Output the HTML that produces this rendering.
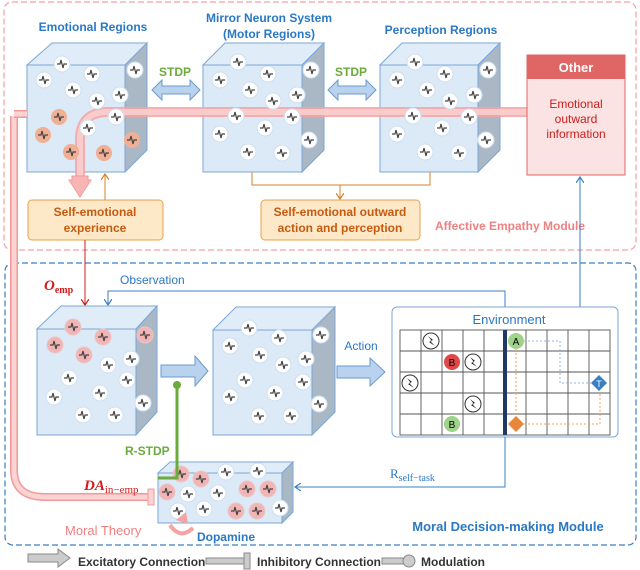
<!DOCTYPE html>
<html><head><meta charset="utf-8"><style>body{margin:0;background:#fff}svg{display:block;font-family:"Liberation Sans",sans-serif}</style></head><body>
<svg width="640" height="570" viewBox="0 0 640 570" xmlns="http://www.w3.org/2000/svg">
<defs>
<g id="n"><circle r="8" fill="#fff" stroke="#cfe0f0" stroke-width="1"/><path d="M-5,0 L-2,0 L-1,-4 L1,4 L2,0 L5,0" fill="none" stroke="#444" stroke-width="1.2"/></g>
<g id="r"><circle r="8" fill="#f2b4b4" stroke="#e8c8c8"/><path d="M-5,0 L-2,0 L-1,-4 L1,4 L2,0 L5,0" fill="none" stroke="#444" stroke-width="1.2"/></g>
<g id="o"><circle r="8" fill="#f3c08a"/><circle r="8" fill="#f0a0a0" opacity="0.5"/><path d="M-5,0 L-2,0 L-1,-4 L1,4 L2,0 L5,0" fill="none" stroke="#444" stroke-width="1.2"/></g>
<g id="z"><circle r="8" fill="#fff" stroke="#333"/><path d="M-3,-5 L2,-1 L-1,0 L4,5 L-2,1 L1,0 Z" fill="#111"/></g>
<marker id="ao" markerWidth="8" markerHeight="8" refX="6" refY="4" orient="auto"><path d="M0,0 L6,4 L0,8" fill="none" stroke="#d9822b" stroke-width="1.2"/></marker>
<marker id="ab" markerWidth="8" markerHeight="8" refX="6" refY="4" orient="auto"><path d="M0,0 L6,4 L0,8" fill="none" stroke="#3a7fc4" stroke-width="1.2"/></marker>
<marker id="ar" markerWidth="8" markerHeight="8" refX="6" refY="4" orient="auto"><path d="M0,0 L6,4 L0,8" fill="none" stroke="#d01c1c" stroke-width="1.2"/></marker>
</defs>

<rect x="4" y="2" width="632" height="248" rx="8" fill="none" stroke="#f4a0a0" stroke-dasharray="6,3" stroke-width="1.2"/>
<rect x="5" y="263" width="631" height="282" rx="8" fill="none" stroke="#3a7fc4" stroke-dasharray="6,3" stroke-width="1.2"/>

<g font-weight="bold" font-size="12" fill="#2a78c4" text-anchor="middle">
<text x="93" y="31">Emotional Regions</text>
<text x="269" y="22">Mirror Neuron System</text>
<text x="269" y="38">(Motor Regions)</text>
<text x="441" y="34">Perception Regions</text>
</g>

<g stroke="#7ba7d6" stroke-width="1">
<path d="M27,65 L52,43 L147,43 L125,65Z" fill="#e0edf8"/><rect x="27" y="65" width="98" height="107" fill="#dce9f6"/><path d="M125,65 L147,43 L147,150 L125,172Z" fill="#aab8c6"/>
<path d="M203,65 L225,43 L324,43 L302,65Z" fill="#e0edf8"/><rect x="203" y="65" width="99" height="107" fill="#dce9f6"/><path d="M302,65 L324,43 L324,150 L302,172Z" fill="#aab8c6"/>
<path d="M380,65 L402,43 L500,43 L478,65Z" fill="#e0edf8"/><rect x="380" y="65" width="98" height="107" fill="#dce9f6"/><path d="M478,65 L500,43 L500,150 L478,172Z" fill="#aab8c6"/>
</g>

<path d="M14,116 L14,470 Q14,497 45,497 L150,497" fill="none" stroke="#f29a9a" stroke-width="8"/>
<path d="M14,116 L14,470 Q14,497 45,497 L150,497" fill="none" stroke="#fbd3d3" stroke-width="5"/>
<path d="M14,114 L27,114" stroke="#f29a9a" stroke-width="8"/><path d="M14,114 L27,114" stroke="#fbd3d3" stroke-width="5"/>
<rect x="148" y="489" width="6" height="16" fill="#fbd3d3" stroke="#f29a9a"/>
<path d="M80,180 L80,140 Q80,112 108,112 L527,112" fill="none" stroke="#f5a3a3" stroke-width="10" opacity="0.85"/>
<path d="M80,180 L80,140 Q80,112 108,112 L527,112" fill="none" stroke="#fbd0d0" stroke-width="6" opacity="0.85"/>
<path d="M72,176 L88,176 L88,180 L91,180 L80,197 L69,180 L72,180Z" fill="#f8b5b5" stroke="#f29a9a"/>

<use href="#n" x="62" y="64"/><use href="#n" x="44" y="80"/><use href="#n" x="92" y="74"/><use href="#n" x="73" y="90"/><use href="#n" x="97" y="101"/><use href="#n" x="135" y="70"/><use href="#n" x="120" y="95"/><use href="#n" x="116" y="117"/><use href="#n" x="88" y="128"/>
<use href="#o" x="59" y="117"/><use href="#o" x="43" y="135"/><use href="#o" x="71" y="152"/><use href="#o" x="104" y="153"/><use href="#o" x="132" y="140"/>
<use href="#n" x="238" y="62"/><use href="#n" x="220" y="80"/><use href="#n" x="268" y="74"/><use href="#n" x="250" y="90"/><use href="#n" x="273" y="101"/><use href="#n" x="311" y="70"/><use href="#n" x="297" y="95"/><use href="#n" x="236" y="116"/><use href="#n" x="292" y="117"/><use href="#n" x="265" y="128"/><use href="#n" x="220" y="134"/><use href="#n" x="248" y="152"/><use href="#n" x="282" y="153"/><use href="#n" x="309" y="140"/>
<use href="#n" x="415" y="62"/><use href="#n" x="397" y="80"/><use href="#n" x="445" y="74"/><use href="#n" x="427" y="90"/><use href="#n" x="450" y="101"/><use href="#n" x="488" y="70"/><use href="#n" x="474" y="95"/><use href="#n" x="413" y="116"/><use href="#n" x="469" y="117"/><use href="#n" x="442" y="128"/><use href="#n" x="397" y="134"/><use href="#n" x="425" y="152"/><use href="#n" x="459" y="153"/><use href="#n" x="486" y="140"/>

<g font-weight="bold" font-size="12" fill="#6aab3c" text-anchor="middle"><text x="175" y="76">STDP</text><text x="351" y="76">STDP</text></g>
<path d="M152,90 L162,80 L162,86 L190,86 L190,80 L200,90 L190,100 L190,94 L162,94 L162,100Z" fill="#b9d3ee" stroke="#6b9bcd"/>
<path d="M328,90 L338,80 L338,86 L366,86 L366,80 L376,90 L366,100 L366,94 L338,94 L338,100Z" fill="#b9d3ee" stroke="#6b9bcd"/>

<rect x="527" y="55" width="98" height="120" fill="#fbe3e3" stroke="#e06666"/>
<rect x="527" y="55" width="98" height="24" fill="#e06666"/>
<text x="576" y="72" font-size="13" font-weight="bold" fill="#fff" text-anchor="middle">Other</text>
<g font-size="12" fill="#d01c1c" text-anchor="middle"><text x="576" y="108">Emotional</text><text x="576" y="123">outward</text><text x="576" y="138">information</text></g>

<rect x="28" y="200" width="135" height="40" rx="4" fill="#fde9c8" stroke="#e8a04a"/>
<rect x="261" y="200" width="159" height="40" rx="4" fill="#fde9c8" stroke="#e8a04a"/>
<g font-size="12" font-weight="bold" fill="#c55a11" text-anchor="middle"><text x="95" y="216">Self-emotional</text><text x="95" y="232">experience</text>
<text x="340" y="216">Self-emotional outward</text><text x="340" y="232">action and perception</text></g>
<g fill="none" stroke="#d9822b" stroke-width="1">
<path d="M105,200 L105,174" marker-end="url(#ao)"/>
<path d="M252,172 L252,185 L430,185 L430,172"/>
<path d="M340,185 L340,199" marker-end="url(#ao)"/>
</g>
<text x="510" y="230" font-size="12" font-weight="bold" fill="#f08080" text-anchor="middle">Affective Empathy Module</text>

<path d="M85,240 L85,305" fill="none" stroke="#d01c1c" marker-end="url(#ar)"/>
<text x="44" y="290" font-family="Liberation Serif" font-style="italic" font-weight="bold" font-size="15" fill="#d01c1c">O<tspan font-size="10" font-style="normal" dy="3">emp</tspan></text>
<path d="M505,307 L505,291 L108,291 L108,305" fill="none" stroke="#3a7fc4" marker-end="url(#ab)"/>
<text x="120" y="284" font-size="12" fill="#2a78c4">Observation</text>
<path d="M580,307 L580,177" fill="none" stroke="#3a7fc4" marker-end="url(#ab)"/>

<g stroke="#7ba7d6" stroke-width="1">
<path d="M37,329 L61,306 L157,306 L136,329Z" fill="#e0edf8"/><rect x="37" y="329" width="99" height="106" fill="#dce9f6"/><path d="M136,329 L157,306 L157,412 L136,435Z" fill="#aab8c6"/>
<path d="M213,330 L236,307 L335,307 L312,330Z" fill="#e0edf8"/><rect x="213" y="330" width="99" height="105" fill="#dce9f6"/><path d="M312,330 L335,307 L335,412 L312,435Z" fill="#aab8c6"/>
<path d="M158,473 L170,462 L293,462 L282,473Z" fill="#e0edf8"/><rect x="158" y="473" width="124" height="50" fill="#dce9f6"/><path d="M282,473 L293,462 L293,512 L282,523Z" fill="#aab8c6"/>
</g>
<use href="#r" x="73" y="327"/><use href="#r" x="55" y="345"/><use href="#r" x="103" y="337"/><use href="#r" x="84" y="355"/><use href="#r" x="145" y="335"/>
<use href="#n" x="108" y="365"/><use href="#n" x="131" y="359"/><use href="#n" x="69" y="378"/><use href="#n" x="127" y="380"/><use href="#n" x="100" y="393"/><use href="#n" x="54" y="397"/><use href="#n" x="143" y="403"/><use href="#n" x="83" y="415"/><use href="#n" x="115" y="415"/>
<use href="#n" x="249" y="328"/><use href="#n" x="230" y="346"/><use href="#n" x="279" y="338"/><use href="#n" x="260" y="355"/><use href="#n" x="321" y="335"/><use href="#n" x="283" y="365"/><use href="#n" x="306" y="359"/><use href="#n" x="245" y="380"/><use href="#n" x="303" y="382"/><use href="#n" x="275" y="393"/><use href="#n" x="230" y="397"/><use href="#n" x="319" y="404"/><use href="#n" x="259" y="416"/><use href="#n" x="291" y="416"/>
<use href="#r" x="181" y="474"/><use href="#r" x="201" y="479"/><use href="#n" x="226" y="472"/><use href="#n" x="258" y="471"/><use href="#r" x="167" y="492"/><use href="#n" x="188" y="494"/><use href="#n" x="218" y="493"/><use href="#r" x="247" y="489"/><use href="#r" x="268" y="489"/><use href="#n" x="178" y="511"/><use href="#n" x="204" y="509"/><use href="#r" x="236" y="511"/><use href="#r" x="257" y="511"/><use href="#n" x="280" y="508"/>

<path d="M161,365 L195,365 L195,356 L208,371 L195,386 L195,377 L161,377Z" fill="#b9d3ee" stroke="#6b9bcd"/>
<path d="M337,366 L370,366 L370,358 L385,372 L370,386 L370,378 L337,378Z" fill="#b9d3ee" stroke="#6b9bcd"/>
<text x="361" y="350" font-size="12" fill="#2a78c4" text-anchor="middle">Action</text>

<path d="M177,385 L177,478 L158,478" fill="none" stroke="#6aab3c" stroke-width="3"/>
<circle cx="177" cy="385" r="4" fill="#6aab3c"/>
<text x="125" y="455" font-size="12" font-weight="bold" fill="#6aab3c">R-STDP</text>
<text x="84" y="490" font-family="Liberation Serif" font-style="italic" font-weight="bold" font-size="15" fill="#d01c1c">DA<tspan font-size="11" font-style="normal" font-weight="normal" dy="3">in−emp</tspan></text>

<rect x="392" y="307" width="226" height="130" rx="5" fill="#fff" stroke="#7ba7d6"/>
<text x="509" y="324" font-size="13" fill="#2a78c4" text-anchor="middle">Environment</text>
<g stroke="#555" stroke-width="0.9" fill="none">
<rect x="400" y="330" width="210" height="105"/>
<path d="M400,351H610M400,372H610M400,393H610M400,414H610M421,330V435M442,330V435M463,330V435M484,330V435M526,330V435M547,330V435M568,330V435M589,330V435"/>
</g>
<rect x="503" y="330" width="4" height="105" fill="#1f3864"/>
<use href="#z" x="431" y="341"/><use href="#z" x="473" y="362"/><use href="#z" x="410" y="383"/><use href="#z" x="473" y="404"/>
<circle cx="452" cy="362" r="8" fill="#e04848"/><text x="452" y="366" font-size="10" text-anchor="middle">B</text>
<circle cx="452" cy="424" r="8" fill="#9fd38a"/><text x="452" y="428" font-size="10" text-anchor="middle">B</text>
<circle cx="516" cy="341" r="8" fill="#9fd38a"/><text x="516" y="345" font-size="10" text-anchor="middle">A</text>
<path d="M524,341 L560,341 L560,383 L591,383" fill="none" stroke="#8fb5e0" stroke-dasharray="2,2"/>
<path d="M516,349 L516,420 M524,424 L600,424 L600,392" fill="none" stroke="#f0a060" stroke-dasharray="2,2"/>
<path d="M599,375 L607,383 L599,391 L591,383Z" fill="#3a7fc4"/><text x="599" y="387" font-size="9" fill="#fff" text-anchor="middle">T</text>
<path d="M516,416 L524,424 L516,432 L508,424Z" fill="#e8863a"/>

<path d="M505,437 L505,487 L295,487" fill="none" stroke="#3a7fc4" marker-end="url(#ab)"/>
<text x="390" y="478" font-family="Liberation Serif" font-size="13" fill="#2a78c4">R<tspan font-size="10" dy="3">self−task</tspan></text>

<text x="65" y="535" font-size="13" fill="#f08080">Moral Theory</text>
<path d="M170,525 Q180,540 193,528" fill="none" stroke="#f5a3a3" stroke-width="4"/>
<path d="M176,520 L186,512 L188,524Z" fill="#f5a3a3"/>
<text x="226" y="541" font-size="12" font-weight="bold" fill="#2a78c4" text-anchor="middle">Dopamine</text>
<text x="508" y="531" font-size="13" font-weight="bold" fill="#2a78c4" text-anchor="middle">Moral Decision-making Module</text>

<path d="M28,558 L58,558 L58,553 L70,562 L58,571 L58,566 L28,566Z" fill="#ccc" stroke="#888" transform="translate(0,-4)"/>
<text x="78" y="566" font-size="12" font-weight="bold" fill="#333">Excitatory Connection</text>
<rect x="206" y="558" width="38" height="6" fill="#ccc" stroke="#888"/><rect x="244" y="553" width="6" height="16" fill="#ccc" stroke="#888"/>
<text x="257" y="566" font-size="12" font-weight="bold" fill="#333">Inhibitory Connection</text>
<rect x="382" y="558" width="22" height="6" fill="#ccc" stroke="#888"/><circle cx="409" cy="561" r="6" fill="#ccc" stroke="#888"/>
<text x="421" y="566" font-size="12" font-weight="bold" fill="#333">Modulation</text>
</svg>
</body></html>
